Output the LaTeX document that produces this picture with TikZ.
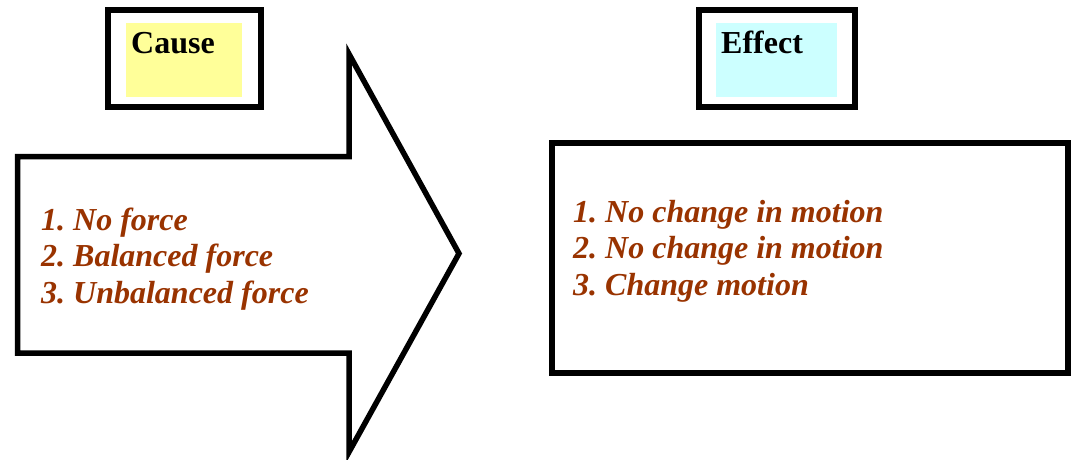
\documentclass[tikz,border=0pt]{standalone}
\usepackage{fontspec}
\setmainfont{Liberation Serif}
\frenchspacing
\begin{document}
\begin{tikzpicture}[x=1pt,y=-1pt,
  frame/.style={draw=black, line width=6pt, fill=white, inner sep=0pt, minimum width=153pt, minimum height=97pt},
  effframe/.style={frame, minimum width=156pt},
  swatch/.style={inner sep=0pt, draw=none},
  title/.style={anchor=base west, inner sep=0pt, font=\fontsize{32}{38}\selectfont\bfseries},
  listtext/.style={anchor=base west, inner sep=0pt, align=left, text=brown3, font=\fontsize{32}{36.7}\selectfont\bfseries\itshape},
  bigframe/.style={draw=black, line width=5.5pt, fill=white, inner sep=0pt}
]
\definecolor{brown3}{HTML}{993300}
\definecolor{pyellow}{HTML}{FFFF99}
\definecolor{pcyan}{HTML}{CCFFFF}
\useasboundingbox (0,0) rectangle (1071,459);
% Cause box
\node[frame] (causebox) at (184.5,58.5) {};
\node[swatch, fill=pyellow, minimum width=116pt, minimum height=74pt] (causefill) at (184,60) {};
\node[title] (causetxt) at (131,53) {Cause};
% Effect box
\node[effframe] (effectbox) at (776.5,58.5) {};
\node[swatch, fill=pcyan, minimum width=121pt, minimum height=74pt] (effectfill) at (776.5,60) {};
\node[title] (effecttxt) at (721,53) {Effect};
% Big arrow
\draw[line width=5.5pt, line join=miter, fill=white]
  (17.5,156.5) -- (349,156.5) -- (349,54) -- (459,253.5) -- (349,452) -- (349,353) -- (17.5,353) -- cycle;
\node[listtext] (causelist) at (41,303.5) {1. No force\\2. Balanced force\\3. Unbalanced force};
% Effect rectangle
\node[bigframe, minimum width=516pt, minimum height=230pt] (effectrect) at (810,258) {};
\node[listtext] (effectlist) at (573,295.5) {1. No change in motion\\2. No change in motion\\3. Change motion};
\end{tikzpicture}
\end{document}
